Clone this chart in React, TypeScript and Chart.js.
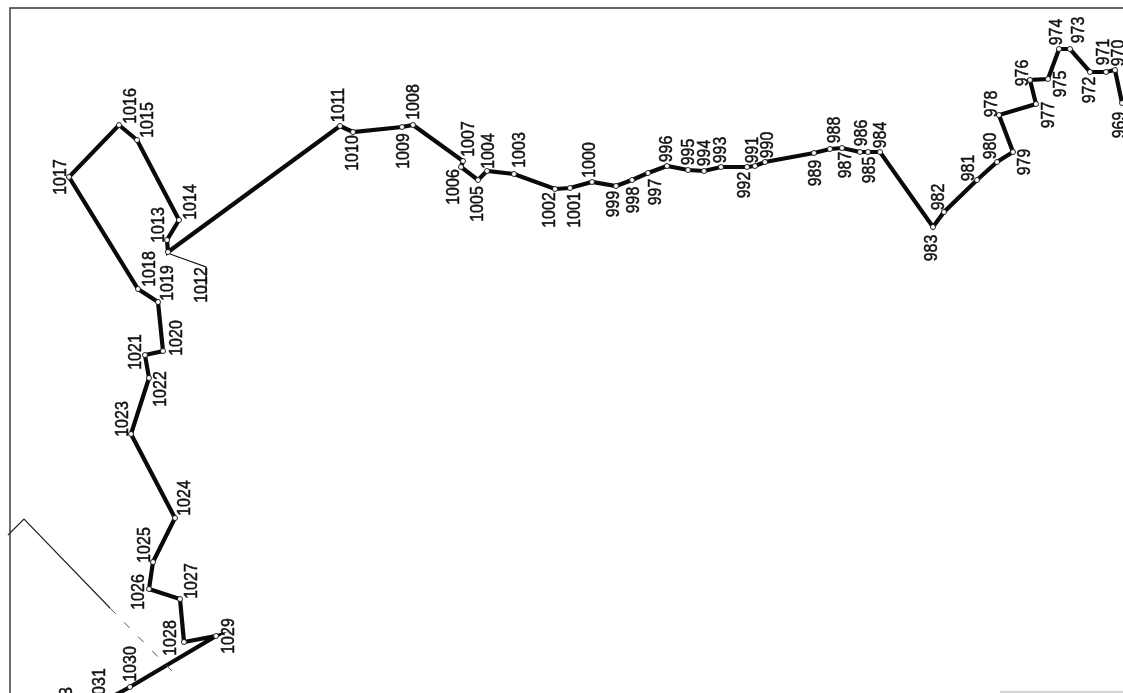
import React, { useEffect, useRef } from "react";
import { Chart, registerables } from "chart.js";

Chart.register(...registerables);

const stationIds = [
  "969","970","971","972","973","974","975","976","977","978","979","980","981","982","983","984","985","986","987","988","989",
  "990","991","992","993","994","995","996","997","998","999","1000","1001","1002","1003","1004","1005","1006","1007","1008","1009",
  "1010","1011","1012","1013","1014","1015","1016","1017","1018","1019","1020","1021","1022","1023","1024","1025","1026","1027","1028","1029","1030","1031",
];
const stationX = [
  1122,1115,1106,1090,1070,1059,1048,1030,1036,999,1013,997,977,944,933,880,868,860,842,830,814,
  765,755,747,721,704,688,667,648,632,616,592,570,555,514,487,478,461,463,413,402,
  353,340,168,167,179,137,119,69,138,158,163,145,149,131,175,153,149,180,184,216,130,108,
];
const stationY = [
  103,70,72,72,49,49,79,80,104,115,152,162,180,212,227,152,152,152,148,149,153,
  162,166,167,167,171,170,166,173,180,186,182,188,189,174,171,180,167,161,125,127,
  132,126,252,240,220,140,125,177,289,302,351,355,378,434,518,562,589,599,642,636,687,699,
];

// Where each number sits, in the same units as the stations
const labelCentreX = [
  1118,1117,1102,1088,1077,1055,1059,1021,1047,990,1023,989,967,937,930,879,868,860,844,833,814,
  766,751,743,719,703,687,665,654,632,612,588,573,548,518,487,476,452,467,412,402,
  351,337,200,157,189,146,129,59,148,166,175,134,159,121,183,143,137,190,169,227,129,98,
];
const labelCentreY = [
  125,53,52,90,30,32,84,73,115,104,162,146,168,197,248,135,170,133,165,130,173,
  145,150,185,150,153,152,149,192,200,204,160,210,210,150,151,204,187,139,102,151,
  153,105,285,225,202,120,106,177,269,283,338,352,389,419,498,545,592,581,638,636,664,686,
];

const clippedLabel = "1033";
const clippedLabelX = 65;
const clippedLabelY = 705;

const leaderX = [170, 206, 206];
const leaderY = [254, 267, 293];
const boundaryX = [8, 24, 110];
const boundaryY = [535, 519, 608];
const boundaryFadeX = [110, 173];
const boundaryFadeY = [608, 672];
const frameX = [10, 10, 1123];
const frameY = [693, 8, 8];
const frameFootX = [1000, 1123];
const frameFootY = [692, 692];

const zip = (xs: number[], ys: number[]) => xs.map((x, i) => ({ x, y: ys[i] }));

const labelPlugin = {
  id: "stationLabels",
  afterDatasetsDraw(chart: any) {
    const { ctx, scales } = chart;
    const put = (text: string, x: number, y: number) => {
      ctx.save();
      ctx.translate(scales.x.getPixelForValue(x), scales.y.getPixelForValue(y));
      ctx.rotate(-Math.PI / 2);
      ctx.scale(0.84, 1);
      ctx.font = '19px "Liberation Sans"';
      ctx.textAlign = "center";
      ctx.textBaseline = "middle";
      ctx.fillStyle = "#111";
      ctx.strokeStyle = "#111";
      ctx.lineWidth = 0.5;
      ctx.fillText(text, 0, 1.5);
      ctx.strokeText(text, 0, 1.5);
      ctx.restore();
    };
    stationIds.forEach((id, i) => put(id, labelCentreX[i], labelCentreY[i]));
    put(clippedLabel, clippedLabelX, clippedLabelY);
  },
};

export default function App() {
  const ref = useRef<HTMLCanvasElement>(null);
  useEffect(() => {
    document.body.style.margin = "0";
    const thin = (data: any[], color: string, width: number, dash: number[] = []) => ({
      data,
      borderColor: color,
      borderWidth: width,
      borderDash: dash,
      pointRadius: 0,
      showLine: true,
      tension: 0,
    });
    const chart = new Chart(ref.current!, {
      type: "scatter",
      data: {
        datasets: [
          thin(zip(frameX, frameY), "#333", 1.4),
          thin(zip(frameFootX, frameFootY), "#aaa", 1.2),
          thin(zip(boundaryX, boundaryY), "#222", 1.2),
          thin(zip(boundaryFadeX, boundaryFadeY), "#555", 1, [8, 12]),
          thin(zip(leaderX, leaderY), "#111", 1.2),
          {
            data: zip(stationX, stationY),
            showLine: true,
            tension: 0,
            borderColor: "#0a0a0a",
            borderWidth: 4.2,
            pointRadius: 2.5,
            pointBackgroundColor: "#fff",
            pointBorderColor: "#111",
            pointBorderWidth: 0.9,
          },
        ],
      },
      options: {
        animation: false,
        responsive: false,
        devicePixelRatio: 1,
        layout: { padding: 0, autoPadding: false },
        plugins: { legend: { display: false }, tooltip: { enabled: false } },
        scales: {
          x: { type: "linear", min: 0, max: 1123, display: false },
          y: { type: "linear", min: 0, max: 693, reverse: true, display: false },
        },
      },
      plugins: [labelPlugin],
    } as any);
    return () => chart.destroy();
  }, []);
  return (
    <div style={{ position: "fixed", left: 0, top: 0, width: 1123, height: 693, background: "#fff" }}>
      <canvas ref={ref} width={1123} height={693} style={{ display: "block" }} />
    </div>
  );
}
